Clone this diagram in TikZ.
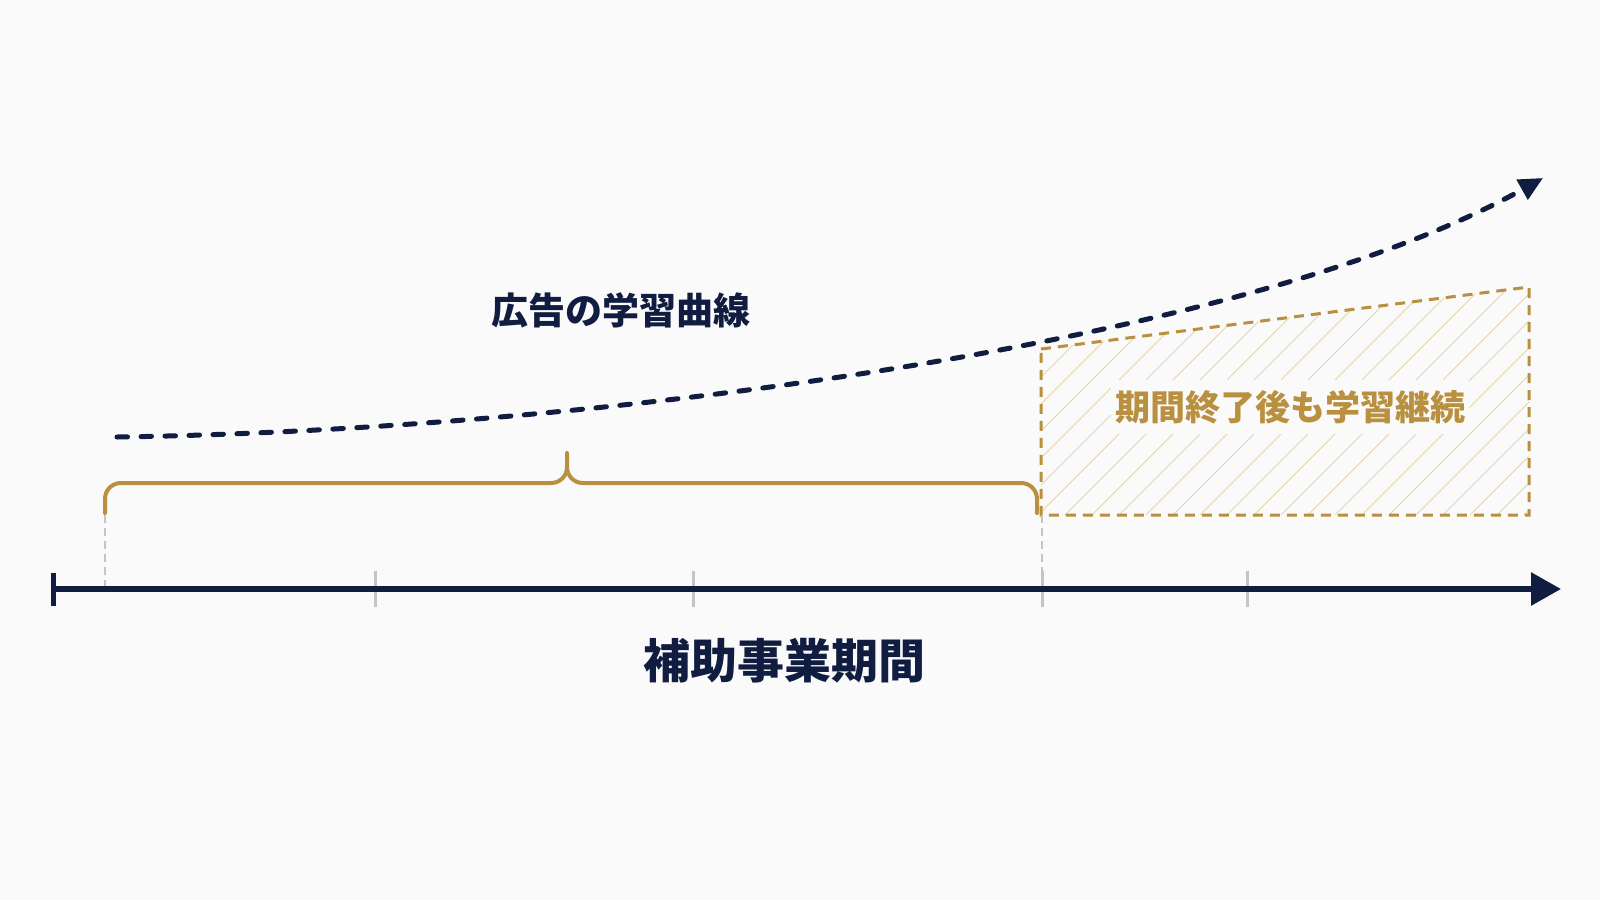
\documentclass[tikz,border=0pt]{standalone}
\usepackage{fontspec}
\newfontfamily\jp{Noto Sans CJK JP}
\usetikzlibrary{arrows.meta}
\definecolor{bg}{HTML}{FAFAFA}
\definecolor{navy}{HTML}{111D40}
\definecolor{gold}{HTML}{B8903F}
\definecolor{hatch}{HTML}{E6D4AC}
\definecolor{tickgray}{HTML}{C4C4C4}
\tikzset{
  axisline/.style={line width=6pt, draw=navy, -{Triangle[length=30pt,width=32pt]}},
  tickline/.style={line width=3pt, draw=tickgray},
  guide/.style={line width=1.5pt, draw=tickgray, dash pattern=on 8pt off 5pt},
  bracket/.style={line width=4pt, draw=gold, line cap=round, line join=round},
  curveline/.style={line width=5pt, draw=navy, line cap=round, dash pattern=on 10.5pt off 13.5pt, -{Triangle[length=24pt,width=22pt]}},
  goldbox/.style={line width=3pt, draw=gold, dash pattern=on 10pt off 7pt},
  hatchline/.style={line width=1pt, draw=hatch},
  lbl/.style={font=\jp\bfseries, inner sep=0pt}
}
\begin{document}
\begin{tikzpicture}[x=1pt,y=-1pt]
\fill[bg] (0,0) rectangle (1600,900);
\useasboundingbox (0,0) rectangle (1600,900);
% coordinates
\coordinate (axs) at (53,589);
\coordinate (axe) at (1561,589);
\coordinate (c0) at (117,437);
\coordinate (c1) at (1543,178);
\coordinate (b1) at (1041,349);
\coordinate (b2) at (1529,287);
\coordinate (b3) at (1529,515);
\coordinate (b4) at (1041,515);
% hatch fill
\begin{scope}
\clip (b1) -- (b2) -- (b3) -- (b4) -- cycle;
\foreach \k in {0,...,30}{
  \draw[hatchline] (1041+27*\k-300,515) -- ++(300,-300);
}
\end{scope}
\node[lbl, text=gold, font=\jp\bfseries\fontsize{35}{41}\selectfont, fill=bg, inner xsep=4pt, inner ysep=10pt] (t3) at (1290,407) {期間終了後も学習継続};
\draw[goldbox] (b1) -- (b2) -- (b3) -- (b4) -- cycle;
% guides
\coordinate (g1t) at (105,515);
\coordinate (g1b) at (105,589);
\coordinate (g2t) at (1042,515);
\coordinate (g2b) at (1042,589);
\draw[guide] (g1t) -- (g1b);
\draw[guide] (g2t) -- (g2b);
% ticks
\foreach \x/\n in {375/ta,693/tb,1042/tc,1247/td}{
  \coordinate (\n1) at (\x,571);
  \coordinate (\n2) at (\x,607);
  \draw[tickline] (\n1) -- (\n2);
}
% axis
\draw[axisline] (axs) -- (axe);
\coordinate (cap1) at (53,573);
\coordinate (cap2) at (53,606);
\draw[line width=5pt, draw=navy] (cap1) -- (cap2);
% bracket
\draw[bracket] (105,513) -- (105,499) .. controls (105,490) and (112,483) .. (121,483)
  -- (551,483) .. controls (560,483) and (567,476) .. (567,467) -- (567,453)
  -- (567,467) .. controls (567,476) and (574,483) .. (583,483)
  -- (1021,483) .. controls (1030,483) and (1037,490) .. (1037,499) -- (1037,513);
% learning curve
\draw[curveline] (c0) .. controls (600,430) and (1250,342) .. (c1);
% labels
\node[lbl, text=navy, font=\jp\bfseries\fontsize{37}{43}\selectfont] (t1) at (621,310) {広告の学習曲線};
\node[lbl, text=navy, font=\jp\bfseries\fontsize{47}{54}\selectfont] (t2) at (784,661) {補助事業期間};
\end{tikzpicture}
\end{document}
